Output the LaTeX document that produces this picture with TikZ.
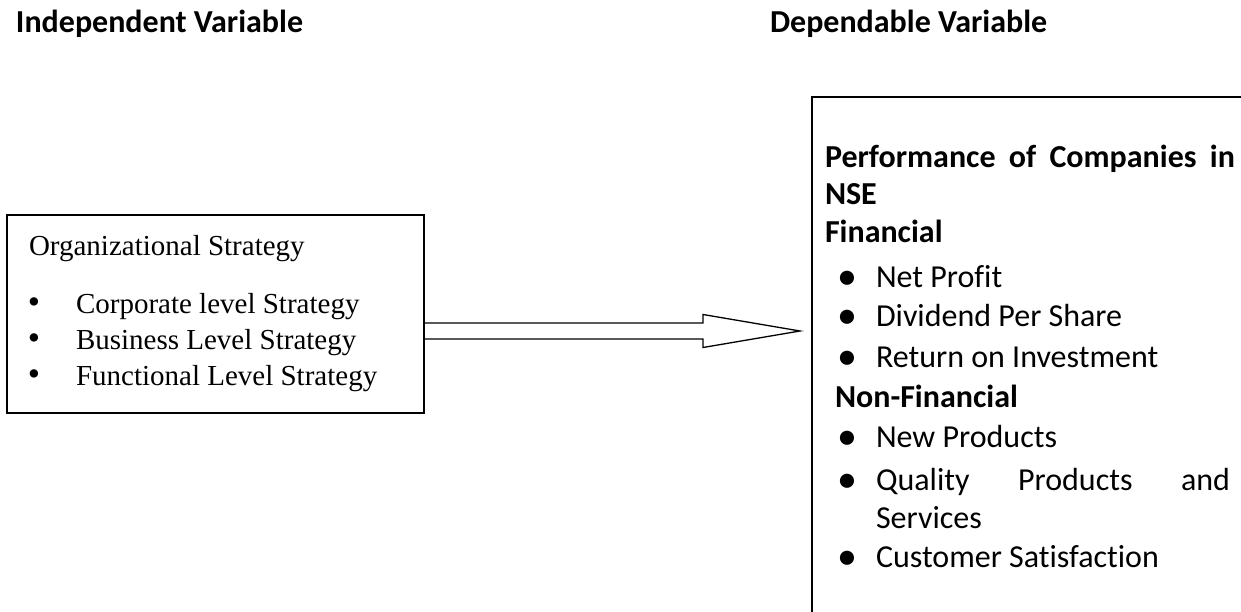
\documentclass[tikz,border=0pt]{standalone}
\usepackage{fontspec}
\setmainfont{Liberation Serif}
\newfontfamily\calib[Ligatures=NoCommon]{Carlito}
\usetikzlibrary{calc}
\newcommand\lbul{\makebox[0pt]{\fontsize{35}{40}\selectfont •}}
\newcommand\rbul{\makebox[0pt]{\raisebox{-2pt}{\fontsize{40}{46}\selectfont •}}}
\begin{document}
\begin{tikzpicture}[x=1pt,y=-1pt,
  every node/.style={inner sep=0pt,outer sep=0pt},
  head/.style={anchor=base west,font=\calib\fontsize{32}{38}\selectfont\bfseries},
  serif/.style={anchor=base west,font=\fontsize{29}{34}\selectfont},
  cal/.style={anchor=base west,font=\calib\fontsize{32}{38}\selectfont},
  calb/.style={anchor=base west,font=\calib\fontsize{32}{38}\selectfont\bfseries},
  boxL/.style={draw,line width=1.5pt,rectangle,minimum width=417pt,minimum height=198pt},
  boxR/.style={draw,line width=2pt,rectangle,minimum width=460pt,minimum height=560pt},
  fatarrow/.style={draw,line width=1.3pt,line join=miter}]
\useasboundingbox (0,0) rectangle (1241,612);
\clip (0,0) rectangle (1241,612);

% headings
\node[head] (hi) at (16,33) {Independent Variable};
\node[head] (hd) at (770,33) {Dependable Variable};

% left box
\node[boxL] (L) at (215.5,314) {};
\node[serif] (lt) at (29,255) {Organizational Strategy};
\node[serif] (l1) at (34,313) {\lbul\hspace{42pt}Corporate level Strategy};
\node[serif] (l2) at (34,349) {\lbul\hspace{42pt}Business Level Strategy};
\node[serif] (l3) at (34,385) {\lbul\hspace{42pt}Functional Level Strategy};

% right box (runs off the page to the right and bottom)
\node[boxR] (R) at (1042,377) {};
\node[calb] (r0) at (825,168) {\makebox[410pt][s]{Performance of Companies in}};
\node[calb] (r1) at (825,205) {NSE};
\node[calb] (r2) at (825,243) {Financial};
\node[cal] (r3) at (847,287) {\rbul\hspace{29pt}Net Profit};
\node[cal] (r4) at (847,326) {\rbul\hspace{29pt}Dividend Per Share};
\node[cal] (r5) at (847,367) {\rbul\hspace{29pt}Return on Investment};
\node[calb] (r6) at (835,407) {Non-Financial};
\node[cal] (r7) at (847,447) {\rbul\hspace{29pt}New Products};
\node[cal] (r8) at (847,490) {\rbul\hspace{29pt}\makebox[354pt][s]{Quality Products and}};
\node[cal] (r9) at (876,528) {Services};
\node[cal] (r10) at (847,567) {\rbul\hspace{29pt}Customer Satisfaction};

% block arrow from left box to right box
\coordinate (a0) at ($(L.east)+(0,17)$);
\coordinate (tip) at ($(R.west|-a0)+(-12,0)$);
\coordinate (hb) at ($(tip)+(-97,0)$);
\draw[fatarrow] ($(a0)+(0,-8)$) -- ($(hb)+(0,-8)$) -- ($(hb)+(0,-16.5)$) -- (tip)
  -- ($(hb)+(0,16.5)$) -- ($(hb)+(0,8)$) -- ($(a0)+(0,8)$);
\end{tikzpicture}
\end{document}
